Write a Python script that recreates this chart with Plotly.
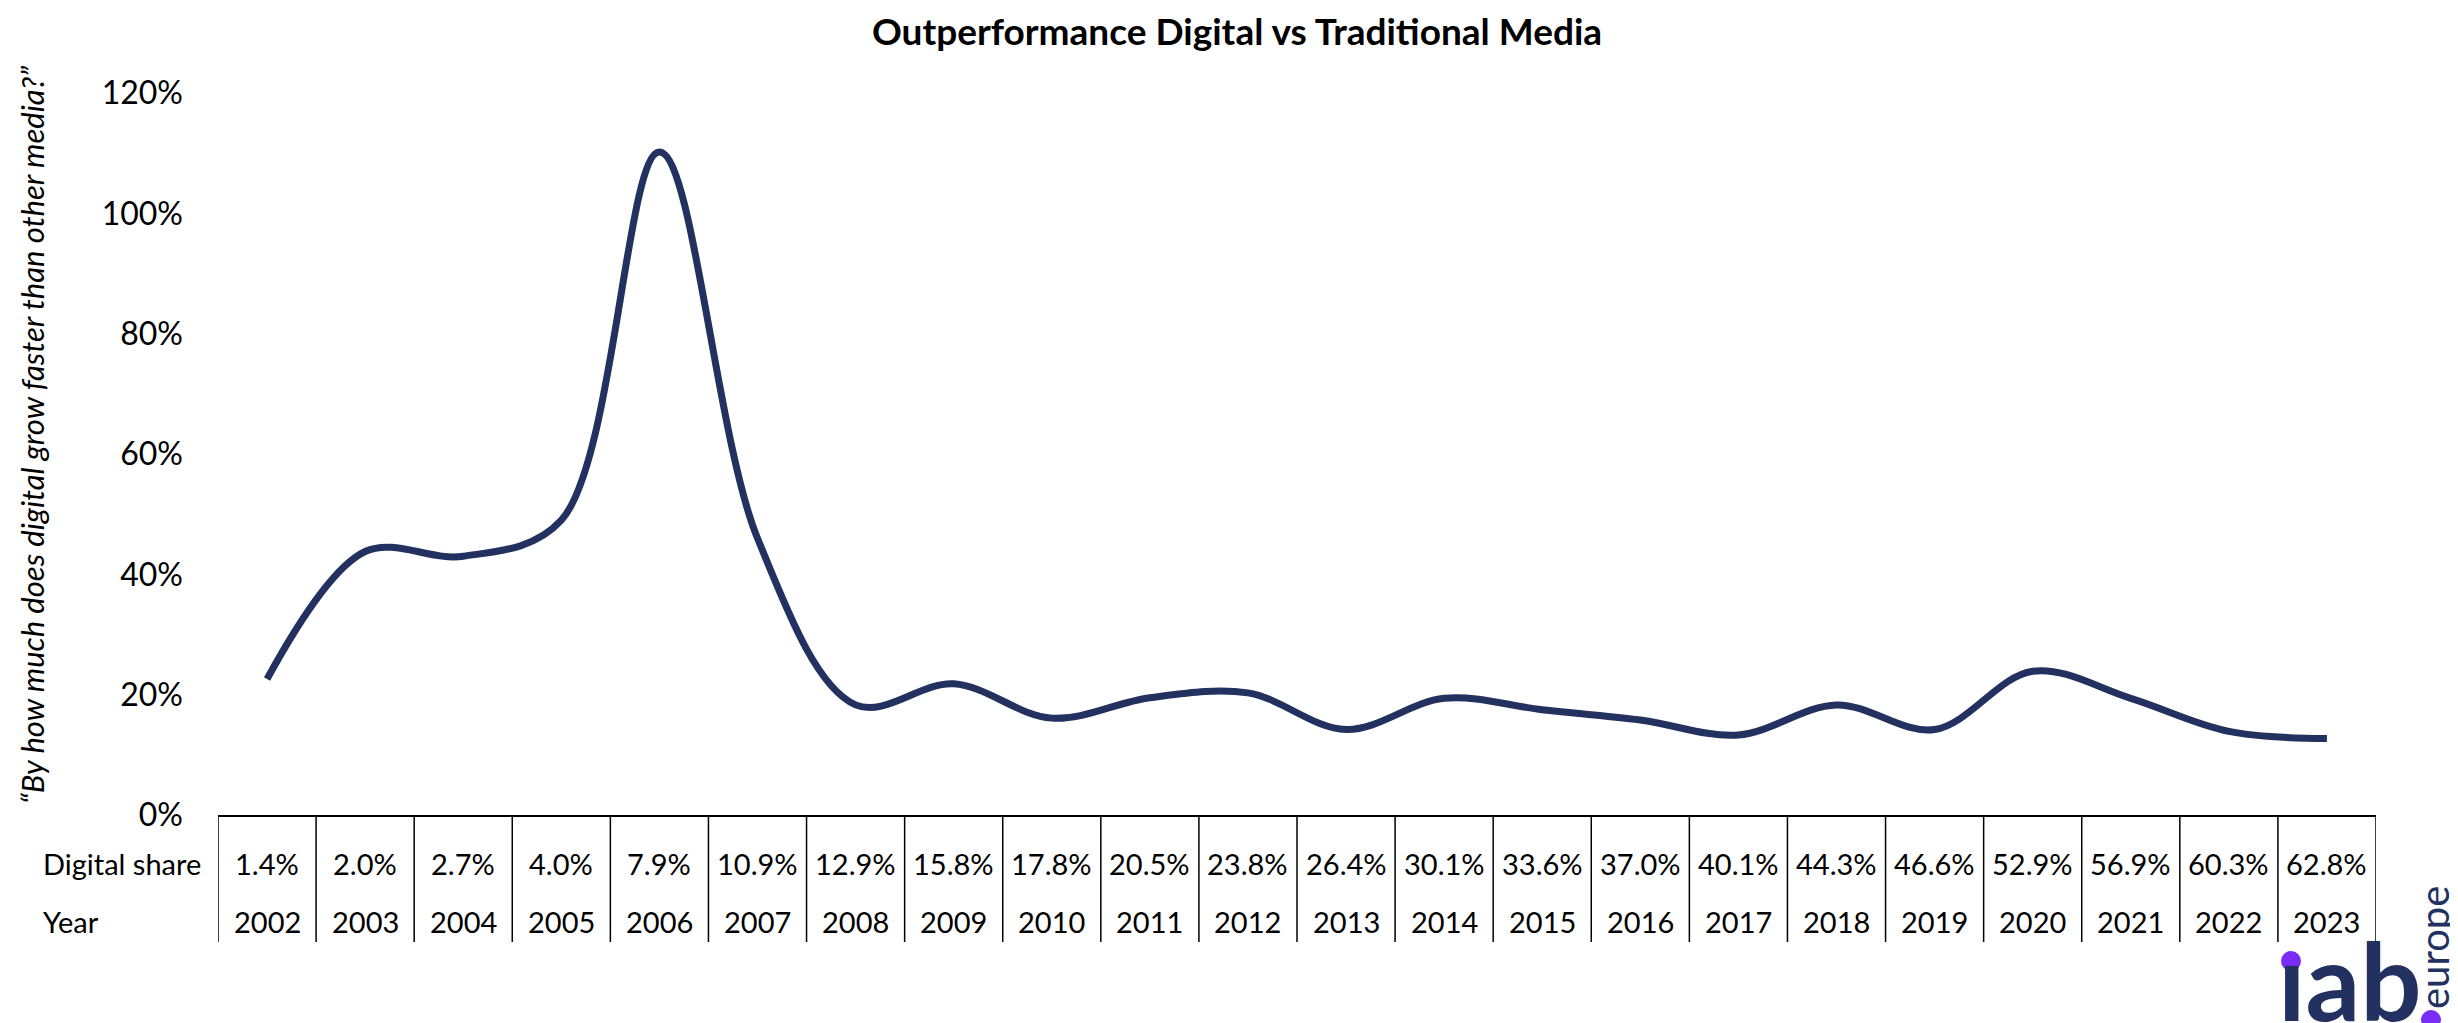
import plotly.graph_objects as go

# values
years = [2002, 2003, 2004, 2005, 2006, 2007, 2008, 2009, 2010, 2011, 2012,
         2013, 2014, 2015, 2016, 2017, 2018, 2019, 2020, 2021, 2022, 2023]
outperformance = [22.6, 43.8, 43.0, 49.0, 110.2, 46.0, 18.3, 21.8, 16.1, 19.5, 20.3,
                  14.2, 19.4, 17.5, 15.8, 13.3, 18.3, 14.2, 23.9, 19.4, 13.9, 12.7]
digital_share = ["1.4%", "2.0%", "2.7%", "4.0%", "7.9%", "10.9%", "12.9%", "15.8%",
                 "17.8%", "20.5%", "23.8%", "26.4%", "30.1%", "33.6%", "37.0%",
                 "40.1%", "44.3%", "46.6%", "52.9%", "56.9%", "60.3%", "62.8%"]
row_labels = ["Digital share", "Year"]
y_ticks = [0, 20, 40, 60, 80, 100, 120]

NAVY = "#22315F"
PURPLE = "#7A2CF7"
FONT = "Lato"

# page geometry (pixels)
W, H = 2458, 1023
L, R, T, B = 210, 2368, 85, 807


def px_x(p):
    return (p - L) / (R - L)


def px_y(p):
    return (B - p) / (B - T)


fig = go.Figure()

fig.add_trace(go.Scatter(
    x=years, y=outperformance,
    mode="lines",
    line=dict(color=NAVY, width=7, shape="spline", smoothing=1.0),
    hoverinfo="x+y",
    showlegend=False,
))

# table under the plot
bounds = [y - 0.5 for y in years] + [years[-1] + 0.5]
for xb in bounds:
    fig.add_shape(type="line", xref="x", yref="paper",
                  x0=xb, x1=xb, y0=0, y1=px_y(934),
                  line=dict(color="black", width=1.5))

for yr, share in zip(years, digital_share):
    fig.add_annotation(x=yr, y=px_y(856), xref="x", yref="paper",
                       text=share, showarrow=False,
                       font=dict(family=FONT, size=29, color="black"),
                       xanchor="center", yanchor="middle")
    fig.add_annotation(x=yr, y=px_y(913), xref="x", yref="paper",
                       text=str(yr), showarrow=False,
                       font=dict(family=FONT, size=29, color="black"),
                       xanchor="center", yanchor="middle")

for lbl, ypos in zip(row_labels, [856, 913]):
    fig.add_annotation(x=px_x(33), y=px_y(ypos), xref="paper", yref="paper",
                       text=lbl, showarrow=False,
                       font=dict(family=FONT, size=29, color="black"),
                       xanchor="left", yanchor="middle")

# y axis title
fig.add_annotation(x=px_x(24), y=px_y(427), xref="paper", yref="paper",
                   text="<i>\u201cBy how much does digital grow faster than other media?\u201d</i>",
                   textangle=-90, showarrow=False,
                   font=dict(family=FONT, size=31, color="black"),
                   xanchor="center", yanchor="middle")

# iab europe logo
fig.add_annotation(x=px_x(2268), y=px_y(971), xref="paper", yref="paper",
                   text="<b>\u0131ab</b>", showarrow=False,
                   font=dict(family=FONT, size=108, color=NAVY),
                   xanchor="left", yanchor="middle")
fig.add_annotation(x=px_x(2426), y=px_y(940), xref="paper", yref="paper",
                   text="europe", textangle=-90, showarrow=False,
                   font=dict(family=FONT, size=40, color=NAVY),
                   xanchor="center", yanchor="middle")
for cx, cy in [(2283, 953), (2423, 1012)]:
    fig.add_shape(type="circle", xref="paper", yref="paper",
                  x0=px_x(cx - 10), x1=px_x(cx + 10),
                  y0=px_y(cy + 10), y1=px_y(cy - 10),
                  fillcolor=PURPLE, line=dict(width=0))

fig.update_layout(
    width=W, height=H,
    margin=dict(l=L, r=W - R, t=T, b=H - B),
    paper_bgcolor="white", plot_bgcolor="white",
    title=dict(text="<b>Outperformance Digital vs Traditional Media</b>",
               x=0.5, xref="container", xanchor="center",
               y=1 - 24 / H, yanchor="middle",
               font=dict(family=FONT, size=37, color="black")),
    font=dict(family=FONT, color="black"),
)

fig.update_xaxes(range=[years[0] - 0.5, years[-1] + 0.5],
                 showticklabels=False, showgrid=False, zeroline=False,
                 showline=True, linecolor="black", linewidth=2, ticks="")
fig.update_yaxes(range=[0, 120], tickmode="array", tickvals=y_ticks,
                 ticktext=[f"{v}%" for v in y_ticks],
                 showgrid=False, zeroline=False, showline=False, ticks="",
                 ticklabelstandoff=34,
                 tickfont=dict(family=FONT, size=32, color="black"))

fig.write_html("out.html")
